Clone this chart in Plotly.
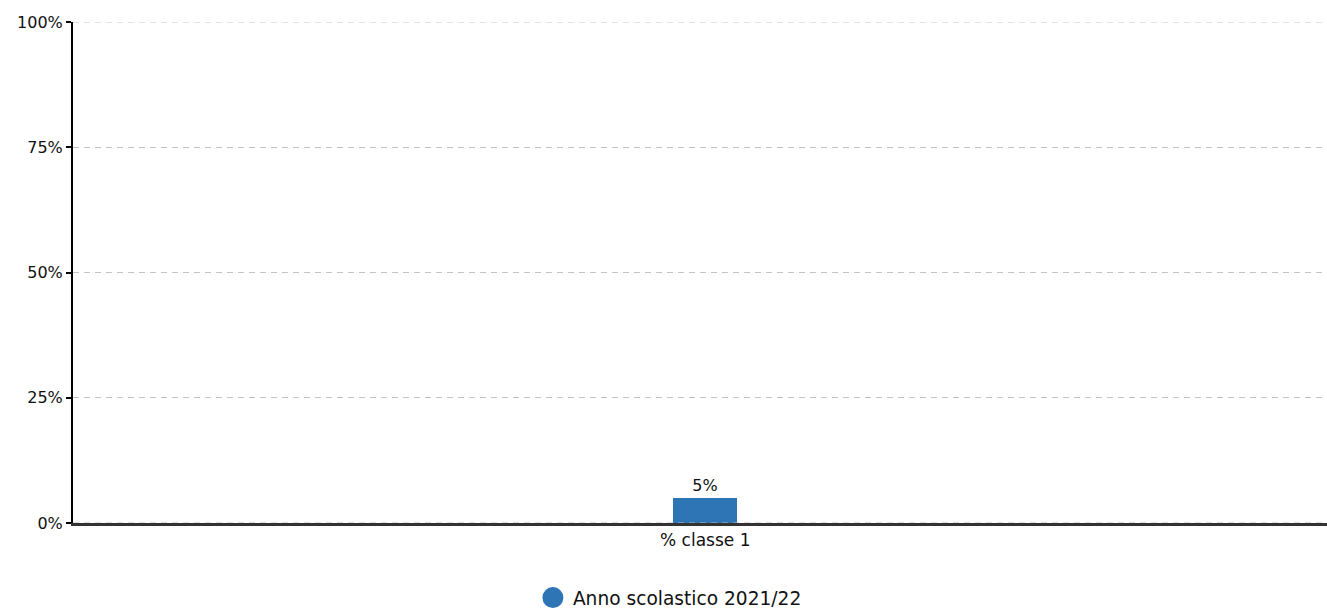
import plotly.graph_objects as go

categories = ["% classe 1"]
values = [5]
series_name = "Anno scolastico 2021/22"
tick_vals = [0, 25, 50, 75, 100]
tick_text = ["0%", "25%", "50%", "75%", "100%"]

bar_color = "#2e75b6"

fig = go.Figure()
fig.add_trace(go.Bar(
    x=categories, y=values, width=0.051,
    marker=dict(color=bar_color, line=dict(width=0)),
    text=[f"{v}%" for v in values], textposition="outside",
    textfont=dict(family="DejaVu Sans", size=16, color="#111"),
    cliponaxis=False, showlegend=False, name=series_name,
))
fig.add_trace(go.Scatter(
    x=[None], y=[None], mode="markers", name=series_name,
    marker=dict(symbol="circle", size=26, color=bar_color,
                line=dict(color=bar_color, width=5)),
    showlegend=True,
))

# top gridline and dashed overlay on the baseline
fig.add_shape(type="line", xref="paper", yref="y", x0=0, x1=1, y0=100, y1=100,
              line=dict(color="#c4c4c4", width=1, dash="6px,5px"), layer="below")
fig.add_shape(type="line", xref="paper", yref="y", x0=0, x1=1, y0=0, y1=0,
              line=dict(color="#bbbbbb", width=1, dash="6px,5px"), layer="above")

fig.update_layout(
    width=1327, height=617,
    margin=dict(l=73, r=0, t=22, b=94),
    plot_bgcolor="white", paper_bgcolor="white",
    font=dict(family="DejaVu Sans", size=16, color="#111"),
    bargap=0,
    xaxis=dict(
        range=[-0.5042, 0.4958], showgrid=False, showline=True,
        linecolor="#333333", linewidth=3, ticks="", zeroline=False,
        tickfont=dict(family="DejaVu Sans", size=17, color="#111"),
        fixedrange=True,
    ),
    yaxis=dict(
        range=[0, 100], tickvals=tick_vals, ticktext=tick_text,
        showgrid=True, gridcolor="#c4c4c4", griddash="6px,5px", gridwidth=1,
        showline=True, linecolor="black", linewidth=2,
        ticks="outside", ticklen=5, tickcolor="black", tickwidth=2,
        zeroline=False, tickfont=dict(family="DejaVu Sans", size=16, color="#111"),
    ),
    legend=dict(
        orientation="h", xref="paper", x=0.476, xanchor="center",
        yref="container", y=0, yanchor="bottom",
        font=dict(family="DejaVu Sans", size=18.6, color="#111"),
        itemsizing="trace",
    ),
)

fig.write_html(
    "out.html",
    config={"displayModeBar": False},
    post_script=(
        "document.documentElement.style.overflow='hidden';"
        "document.body.style.margin='0';document.body.style.overflow='hidden';"
        "var gd=document.getElementById('{plot_id}');"
        "gd.parentElement.style.height='609px';gd.parentElement.style.overflow='hidden';"
    ),
)
